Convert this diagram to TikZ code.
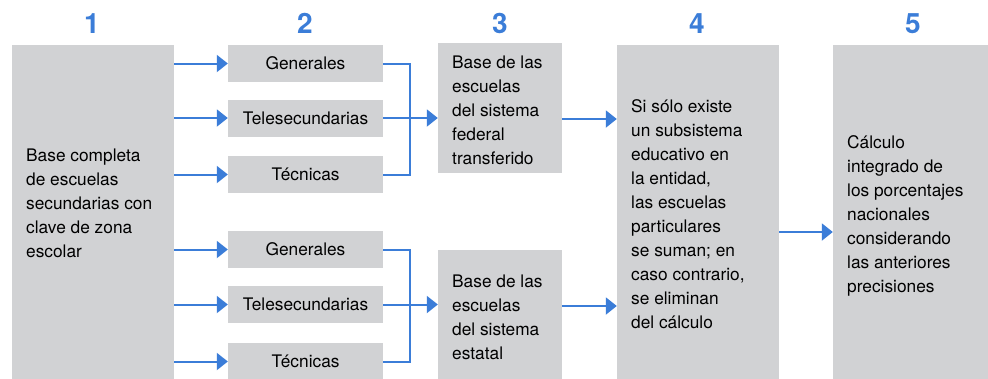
\documentclass[tikz,border=0pt]{standalone}
\usepackage{fontspec}
\setmainfont{TeX Gyre Heros}
\usetikzlibrary{arrows.meta}
\definecolor{blu}{RGB}{59,125,216}
\definecolor{gbox}{RGB}{209,210,212}
\begin{document}
\begin{tikzpicture}[x=1pt,y=-1pt,
  box/.style={fill=gbox,draw=none,inner sep=0,anchor=center},
  sbox/.style={box,minimum width=155pt,minimum height=37pt,text height=12.5pt,text depth=0pt,font=\fontsize{17.3}{24}\selectfont},
  txt/.style={anchor=base west,inner sep=0,font=\fontsize{17.3}{24}\selectfont},
  num/.style={anchor=base,inner sep=0,text=blu,font=\fontsize{28}{30}\selectfont\bfseries},
  lin/.style={draw=blu,line width=2pt},
  arr/.style={lin,-{Triangle[length=11pt,width=17pt]}}]
\clip (0,0) rectangle (988,378);
\fill[white] (0,0) rectangle (988,378);
% boxes
\node[box,minimum width=162pt,minimum height=338pt] (b1) at (93,214) {};
\node[sbox] (gen1) at (305.5,63.5) {Generales};
\node[sbox] (tele1) at (305.5,118) {Telesecundarias};
\node[sbox] (tec1) at (305.5,174.5) {Técnicas};
\node[sbox] (gen2) at (305.5,249.5) {Generales};
\node[sbox] (tele2) at (305.5,304.5) {Telesecundarias};
\node[sbox] (tec2) at (305.5,361.5) {Técnicas};
\node[box,minimum width=124pt,minimum height=130pt] (b3a) at (500,108) {};
\node[box,minimum width=124pt,minimum height=140pt] (b3b) at (500,320) {};
\node[box,minimum width=162pt,minimum height=338pt] (b4) at (698,214) {};
\node[box,minimum width=170pt,minimum height=338pt] (b5) at (918,214) {};
% texts
\node[txt] (t1) at (26,161) {\begin{tabular}[t]{@{}l@{}}Base completa\\de escuelas\\secundarias con\\clave de zona\\escolar\end{tabular}};
\node[txt] (t3a) at (452,68) {\begin{tabular}[t]{@{}l@{}}Base de las\\escuelas\\del sistema\\federal\\transferido\end{tabular}};
\node[txt] (t3b) at (452,287) {\begin{tabular}[t]{@{}l@{}}Base de las\\escuelas\\del sistema\\estatal\end{tabular}};
\node[txt] (t4) at (631,112) {\begin{tabular}[t]{@{}l@{}}Si sólo existe\\un subsistema\\educativo en\\la entidad,\\las escuelas\\particulares\\se suman; en\\caso contrario,\\se eliminan\\del cálculo\end{tabular}};
\node[txt] (t5) at (847,148) {\begin{tabular}[t]{@{}l@{}}Cálculo\\integrado de\\los porcentajes\\nacionales\\considerando\\las anteriores\\precisiones\end{tabular}};
% numbers
\node[num] (n1) at (92,33) {1};
\node[num] (n2) at (305,33) {2};
\node[num] (n3) at (500,33) {3};
\node[num] (n4) at (697,33) {4};
\node[num] (n5) at (913,33) {5};
% connectors 1 -> 2
\foreach \n in {gen1,tele1,tec1,gen2,tele2,tec2}
  \draw[arr] (\n.west -| b1.east) -- (\n.west);
% brackets 2 -> 3
\coordinate (jA) at (410,118);
\coordinate (jB) at (410,305);
\draw[lin] (gen1.east) -| (jA) |- (tec1.east);
\draw[arr] (tele1.east) -- (tele1.east -| b3a.west);
\draw[lin] (gen2.east) -| (jB) |- (tec2.east);
\draw[arr] (tele2.east) -- (tele2.east -| b3b.west);
% 3 -> 4
\draw[arr] (b3a.east |- 0,119) -- (b4.west |- 0,119);
\draw[arr] (b3b.east |- 0,306) -- (b4.west |- 0,306);
% 4 -> 5
\draw[arr] (b4.east |- 0,232) -- (b5.west |- 0,232);
\end{tikzpicture}
\end{document}
